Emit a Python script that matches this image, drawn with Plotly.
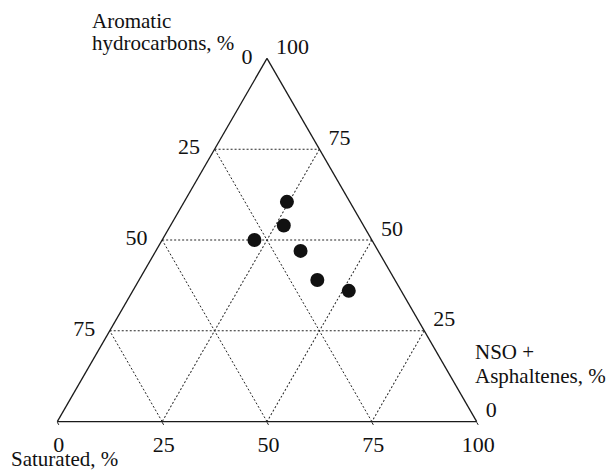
import plotly.graph_objects as go

# Group composition of the extracts, % (each row sums to 100)
aromatic = [60.5, 54.0, 50.0, 47.0, 39.0, 36.0]
saturated = [15.0, 19.0, 28.0, 18.5, 18.5, 12.5]
nso_asphaltenes = [24.5, 27.0, 22.0, 34.5, 42.5, 51.5]

grid_levels = [0, 25, 50, 75, 100]

W, H = 612, 473
SERIF = "Liberation Serif, Times New Roman, serif"
INK = "#111111"


def px(x):
    return x / W


def py(y):
    return 1 - y / H


def axis(tickvals, ticklen, tickcolor):
    return dict(
        min=0,
        tickmode="array",
        tickvals=tickvals,
        ticktext=[str(100 - v) for v in tickvals],
        tickfont=dict(family=SERIF, size=22, color=INK),
        showline=True,
        linecolor="#1a1a1a",
        linewidth=1.3,
        showgrid=True,
        gridcolor="#262626",
        gridwidth=1.2,
        griddash="2px,2px",
        ticks="outside",
        ticklen=ticklen,
        tickwidth=1,
        tickcolor=tickcolor,
        title=dict(text=""),
    )


fig = go.Figure(
    go.Scatterternary(
        a=aromatic,
        b=saturated,
        c=nso_asphaltenes,
        mode="markers",
        marker=dict(size=14, color=INK, line=dict(width=0)),
        showlegend=False,
    )
)

# transparent ticks on the slanted sides push their labels away from the edges
clear = "rgba(0,0,0,0)"
fig.update_layout(
    width=W,
    height=H,
    margin=dict(l=0, r=0, t=0, b=0),
    paper_bgcolor="white",
    font=dict(family=SERIF, size=21, color=INK),
    ternary=dict(
        sum=100,
        bgcolor="white",
        domain=dict(x=[px(57.3), px(476.7)], y=[py(430), py(50)]),
        aaxis=axis(grid_levels[1:], 11, clear),
        baxis=axis(grid_levels, 3, "#1a1a1a"),
        caxis=axis(grid_levels, 11, clear),
    ),
)

labels = [
    ("Aromatic", 90, 21, "middle"),
    ("hydrocarbons, %", 90, 43, "middle"),
    ("NSO +", 473, 352, "middle"),
    ("Asphaltenes, %", 473, 376, "middle"),
    ("Saturated, %", 9, 473, "bottom"),
]
for text, x, y, anchor in labels:
    fig.add_annotation(
        text=text,
        x=px(x),
        y=py(y),
        xref="paper",
        yref="paper",
        xanchor="left",
        yanchor=anchor,
        showarrow=False,
        font=dict(family=SERIF, size=21, color=INK),
    )

fig.write_html("out.html")
